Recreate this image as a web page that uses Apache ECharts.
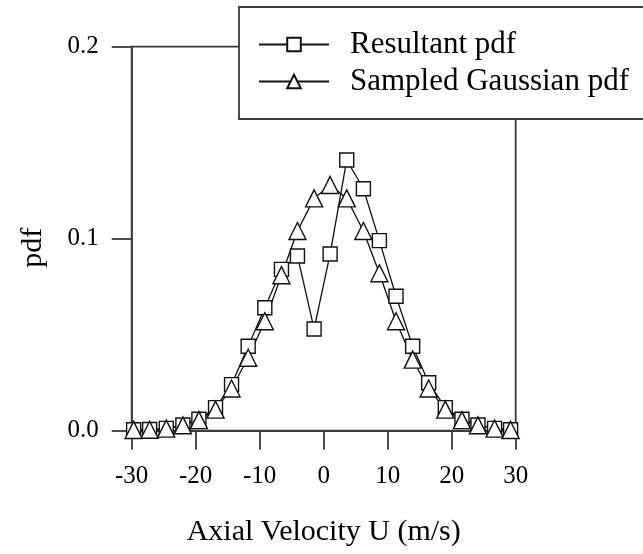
<!DOCTYPE html>
<html>
<head>
<meta charset="utf-8">
<script src="https://cdn.jsdelivr.net/npm/echarts@6/dist/echarts.min.js"></script>
<style>
html,body{margin:0;padding:0;background:#fff;}
#chart{width:643px;height:554px;}
</style>
</head>
<body>
<div id="chart"></div>
<script>
// Axial velocity bin centres (m/s)
const velocity = [-29.7, -27.2, -24.6, -22.0, -19.5, -16.9, -14.4, -11.8, -9.2, -6.6, -4.1, -1.5,
                  1.0, 3.6, 6.2, 8.7, 11.3, 13.9, 16.4, 19.0, 21.6, 24.1, 26.7, 29.2];
const resultantPdf = [0.0005, 0.0006, 0.0012, 0.003, 0.006, 0.012, 0.024, 0.044, 0.064, 0.084, 0.091, 0.053,
                      0.092, 0.141, 0.126, 0.099, 0.070, 0.044, 0.025, 0.012, 0.006, 0.003, 0.0012, 0.0005];
const gaussianPdf = [0.0004, 0.0005, 0.0011, 0.0028, 0.0055, 0.011, 0.022, 0.038, 0.057, 0.081, 0.104, 0.121,
                     0.128, 0.121, 0.104, 0.082, 0.057, 0.037, 0.022, 0.011, 0.0055, 0.0028, 0.0011, 0.0004];
const seriesNames = ['Resultant pdf', 'Sampled Gaussian pdf'];
const xTitle = 'Axial Velocity U (m/s)';
const yTitle = 'pdf';

const FONT = 'Liberation Serif, Times New Roman, serif';
const INK = '#111';
const AXIS = '#3a3a3a';

const pair = (xs, ys) => xs.map((x, i) => [x, ys[i]]);

const chart = echarts.init(document.getElementById('chart'), null, {renderer: 'canvas'});
chart.setOption({
  animation: false,
  backgroundColor: '#fff',
  grid: {
    left: 131.7, right: 127.3, top: 46.7, bottom: 123.3,
    show: true, borderColor: AXIS, borderWidth: 1.8, backgroundColor: 'transparent'
  },
  legend: {
    orient: 'vertical',
    left: 239, top: 7,
    padding: [22, 120, 22, 19],
    itemGap: 6,
    itemWidth: 70, itemHeight: 17,
    backgroundColor: '#fff',
    borderColor: AXIS, borderWidth: 1.8,
    textStyle: {fontFamily: FONT, fontSize: 31, color: '#000', padding: [0, 0, 0, 16]},
    data: seriesNames
  },
  xAxis: {
    type: 'value', min: -30, max: 30, interval: 10,
    name: xTitle, nameLocation: 'middle', nameGap: 86,
    nameTextStyle: {fontFamily: FONT, fontSize: 30, color: '#000'},
    axisLine: {show: true, onZero: false, lineStyle: {color: AXIS, width: 1.8}},
    axisTick: {show: true, inside: false, length: 19, lineStyle: {color: AXIS, width: 1.8}},
    axisLabel: {fontFamily: FONT, fontSize: 25, color: '#000', margin: 33},
    splitLine: {show: false}
  },
  yAxis: {
    type: 'value', min: 0, max: 0.2, interval: 0.1,
    name: yTitle, nameLocation: 'middle', nameGap: 84,
    nameTextStyle: {fontFamily: FONT, fontSize: 30, color: '#000', padding: [0, 18, 0, 0]},
    axisLine: {show: true, onZero: false, lineStyle: {color: AXIS, width: 1.8}},
    axisTick: {show: true, inside: false, length: 20, lineStyle: {color: AXIS, width: 1.8}},
    axisLabel: {fontFamily: FONT, fontSize: 25, color: '#000', margin: 33,
      formatter: v => v.toFixed(1)},
    splitLine: {show: false}
  },
  series: [
    {
      name: seriesNames[0], type: 'line', data: pair(velocity, resultantPdf),
      symbol: 'rect', symbolSize: 14, showAllSymbol: true,
      lineStyle: {color: INK, width: 1.3},
      itemStyle: {color: '#fff', borderColor: INK, borderWidth: 1.4}
    },
    {
      name: seriesNames[1], type: 'line', data: pair(velocity, gaussianPdf),
      symbol: 'triangle', symbolSize: 17, showAllSymbol: true,
      lineStyle: {color: INK, width: 1.3},
      itemStyle: {color: '#fff', borderColor: INK, borderWidth: 1.4}
    }
  ]
});
</script>
</body>
</html>
